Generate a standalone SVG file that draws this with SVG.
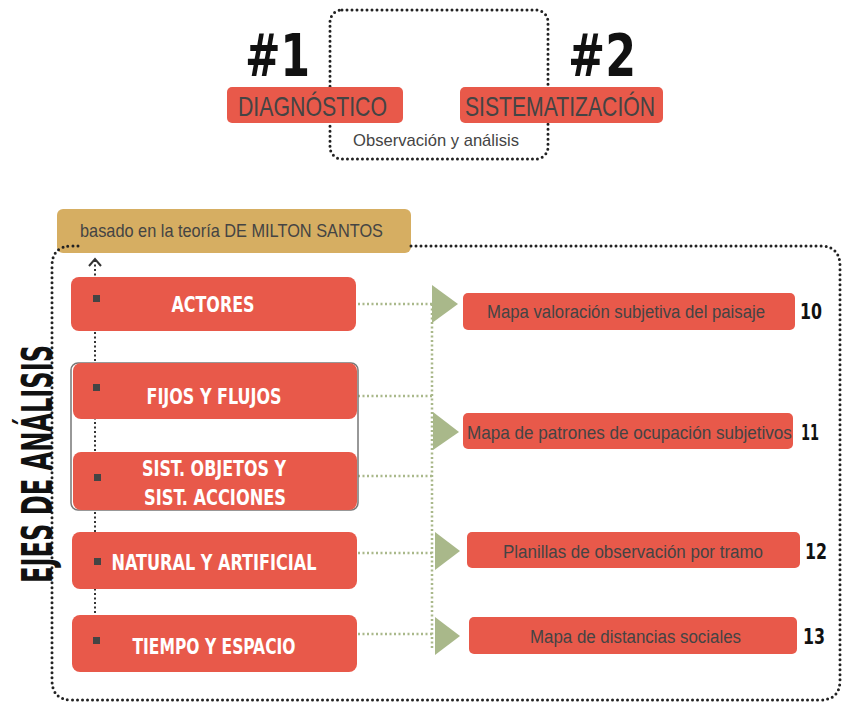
<svg xmlns="http://www.w3.org/2000/svg" width="845" height="706" viewBox="0 0 845 706">
<defs>
<style>
.red{fill:#E8594A}
.gold{fill:#D6AE62}
.dots{fill:none;stroke:#222;stroke-width:3;stroke-dasharray:0 5;stroke-linecap:round}
.gdots{fill:none;stroke:#A9B88A;stroke-width:2.5;stroke-dasharray:2 2.5}
.tri{fill:#A9B88A}
.big{font-family:"DejaVu Sans Condensed","Liberation Sans",sans-serif;font-weight:bold;fill:#111}
.lbl{font-family:"DejaVu Sans Condensed","Liberation Sans",sans-serif;font-weight:bold;fill:#fff;font-size:22px;text-anchor:middle}
.thin{font-family:"Liberation Sans","DejaVu Sans Condensed",sans-serif;fill:#444}
.num{font-family:"DejaVu Sans Condensed","Liberation Sans",sans-serif;font-weight:bold;fill:#111;font-size:22px}
.sq{fill:#444}
</style>
</defs>

<!-- header -->
<g id="loop">
<rect x="330" y="10" width="218" height="149" rx="12" class="dots"/>
<text x="436" y="146" class="thin" font-size="17" text-anchor="middle" fill="#555" textLength="166" lengthAdjust="spacingAndGlyphs">Observación y análisis</text>
</g>
<g id="diag">
<text x="245" y="76" class="big" font-size="58" textLength="65" lengthAdjust="spacingAndGlyphs">#1</text>
<rect x="227" y="87" width="176" height="36" rx="5" class="red"/>
<text x="238" y="116" class="thin" font-size="28" fill="#333" textLength="149" lengthAdjust="spacingAndGlyphs">DIAGNÓSTICO</text>
</g>
<g id="sist">
<text x="568" y="76" class="big" font-size="58" textLength="68" lengthAdjust="spacingAndGlyphs">#2</text>
<rect x="460" y="87" width="203" height="36" rx="5" class="red"/>
<text x="465" y="116" class="thin" font-size="28" fill="#333" textLength="190" lengthAdjust="spacingAndGlyphs">SISTEMATIZACIÓN</text>
</g>

<!-- theory label -->
<g id="teoria">
<rect x="57" y="209" width="354" height="44" rx="6" class="gold"/>
<text x="80" y="237" class="thin" font-size="19" fill="#444" textLength="303" lengthAdjust="spacingAndGlyphs">basado en la teoría DE MILTON SANTOS</text>
</g>

<!-- big frame -->
<g id="frame">
<path d="M411 246 H820 Q840 246 840 266 V680 Q840 700 820 700 H72 Q52 700 52 680 V266 Q52 246 72 246 H80" class="dots"/>
</g>

<g id="eje">
<text transform="translate(52 464) rotate(-90)" class="big" font-size="42" text-anchor="middle" textLength="238" lengthAdjust="spacingAndGlyphs">EJES DE ANÁLISIS</text>
</g>

<!-- connectors -->
<g id="connectors">
<path d="M95 640 V260" fill="none" stroke="#333" stroke-width="2" stroke-dasharray="2 2.5"/>
<path d="M89 266 L95 259 L101 266" fill="none" stroke="#333" stroke-width="2"/>
<path d="M358 304 H432 M358 396 H432 M358 476 H432 M358 553 H432 M358 634 H432 M432 304 V650" class="gdots"/>
<polygon points="432,285 458,304 432,323" class="tri"/>
<polygon points="433,412 459,432 433,450" class="tri"/>
<polygon points="435,532 460,551 435,570" class="tri"/>
<polygon points="435,617 460,636 435,655" class="tri"/>
</g>

<!-- left nodes -->
<g id="grupo">
<rect x="71" y="363" width="287" height="147" rx="7" fill="none" stroke="#777" stroke-width="1.5"/>
</g>
<g id="actores">
<rect x="71" y="277" width="285" height="54" rx="8" class="red"/>
<rect x="93" y="295" width="7" height="7" class="sq"/>
<text x="213" y="312" class="lbl" textLength="83" lengthAdjust="spacingAndGlyphs">ACTORES</text>
</g>
<g id="fijos">
<rect x="73" y="363" width="284" height="56" rx="8" class="red"/>
<rect x="93" y="384" width="7" height="7" class="sq"/>
<text x="214" y="404" class="lbl" textLength="135" lengthAdjust="spacingAndGlyphs">FIJOS Y FLUJOS</text>
</g>
<g id="sistobj">
<rect x="73" y="452" width="284" height="58" rx="8" class="red"/>
<rect x="94" y="474" width="7" height="7" class="sq"/>
<text x="214" y="476" class="lbl" textLength="144" lengthAdjust="spacingAndGlyphs">SIST. OBJETOS Y</text>
<text x="215" y="505" class="lbl" textLength="142" lengthAdjust="spacingAndGlyphs">SIST. ACCIONES</text>
</g>
<g id="natural">
<rect x="72" y="532" width="285" height="57" rx="8" class="red"/>
<rect x="94" y="558" width="7" height="7" class="sq"/>
<text x="214" y="570" class="lbl" textLength="205" lengthAdjust="spacingAndGlyphs">NATURAL Y ARTIFICIAL</text>
</g>
<g id="tiempo">
<rect x="72" y="615" width="285" height="57" rx="8" class="red"/>
<rect x="93" y="637" width="7" height="7" class="sq"/>
<text x="214" y="654" class="lbl" textLength="163" lengthAdjust="spacingAndGlyphs">TIEMPO Y ESPACIO</text>
</g>

<!-- right nodes -->
<g id="n10">
<rect x="463" y="293" width="332" height="37" rx="5" class="red"/>
<text x="487" y="318" class="thin" font-size="18" fill="#444" textLength="278" lengthAdjust="spacingAndGlyphs">Mapa valoración subjetiva del paisaje</text>
<text x="800" y="319" class="num" textLength="22" lengthAdjust="spacingAndGlyphs">10</text>
</g>
<g id="n11">
<rect x="463" y="413" width="330" height="36" rx="5" class="red"/>
<text transform="translate(467 439) scale(0.9 1)" class="thin" font-size="18" fill="#444" textLength="361" lengthAdjust="spacingAndGlyphs">Mapa de patrones de ocupación subjetivos</text>
<text x="801" y="440" class="num" textLength="18" lengthAdjust="spacingAndGlyphs">11</text>
</g>
<g id="n12">
<rect x="467" y="532" width="333" height="36" rx="5" class="red"/>
<text x="503" y="558" class="thin" font-size="18" fill="#444" textLength="260" lengthAdjust="spacingAndGlyphs">Planillas de observación por tramo</text>
<text x="805" y="559" class="num" textLength="22" lengthAdjust="spacingAndGlyphs">12</text>
</g>
<g id="n13">
<rect x="469" y="617" width="328" height="37" rx="5" class="red"/>
<text x="530" y="643" class="thin" font-size="18" fill="#444" textLength="211" lengthAdjust="spacingAndGlyphs">Mapa de distancias sociales</text>
<text x="803" y="644" class="num" textLength="22" lengthAdjust="spacingAndGlyphs">13</text>
</g>
</svg>
